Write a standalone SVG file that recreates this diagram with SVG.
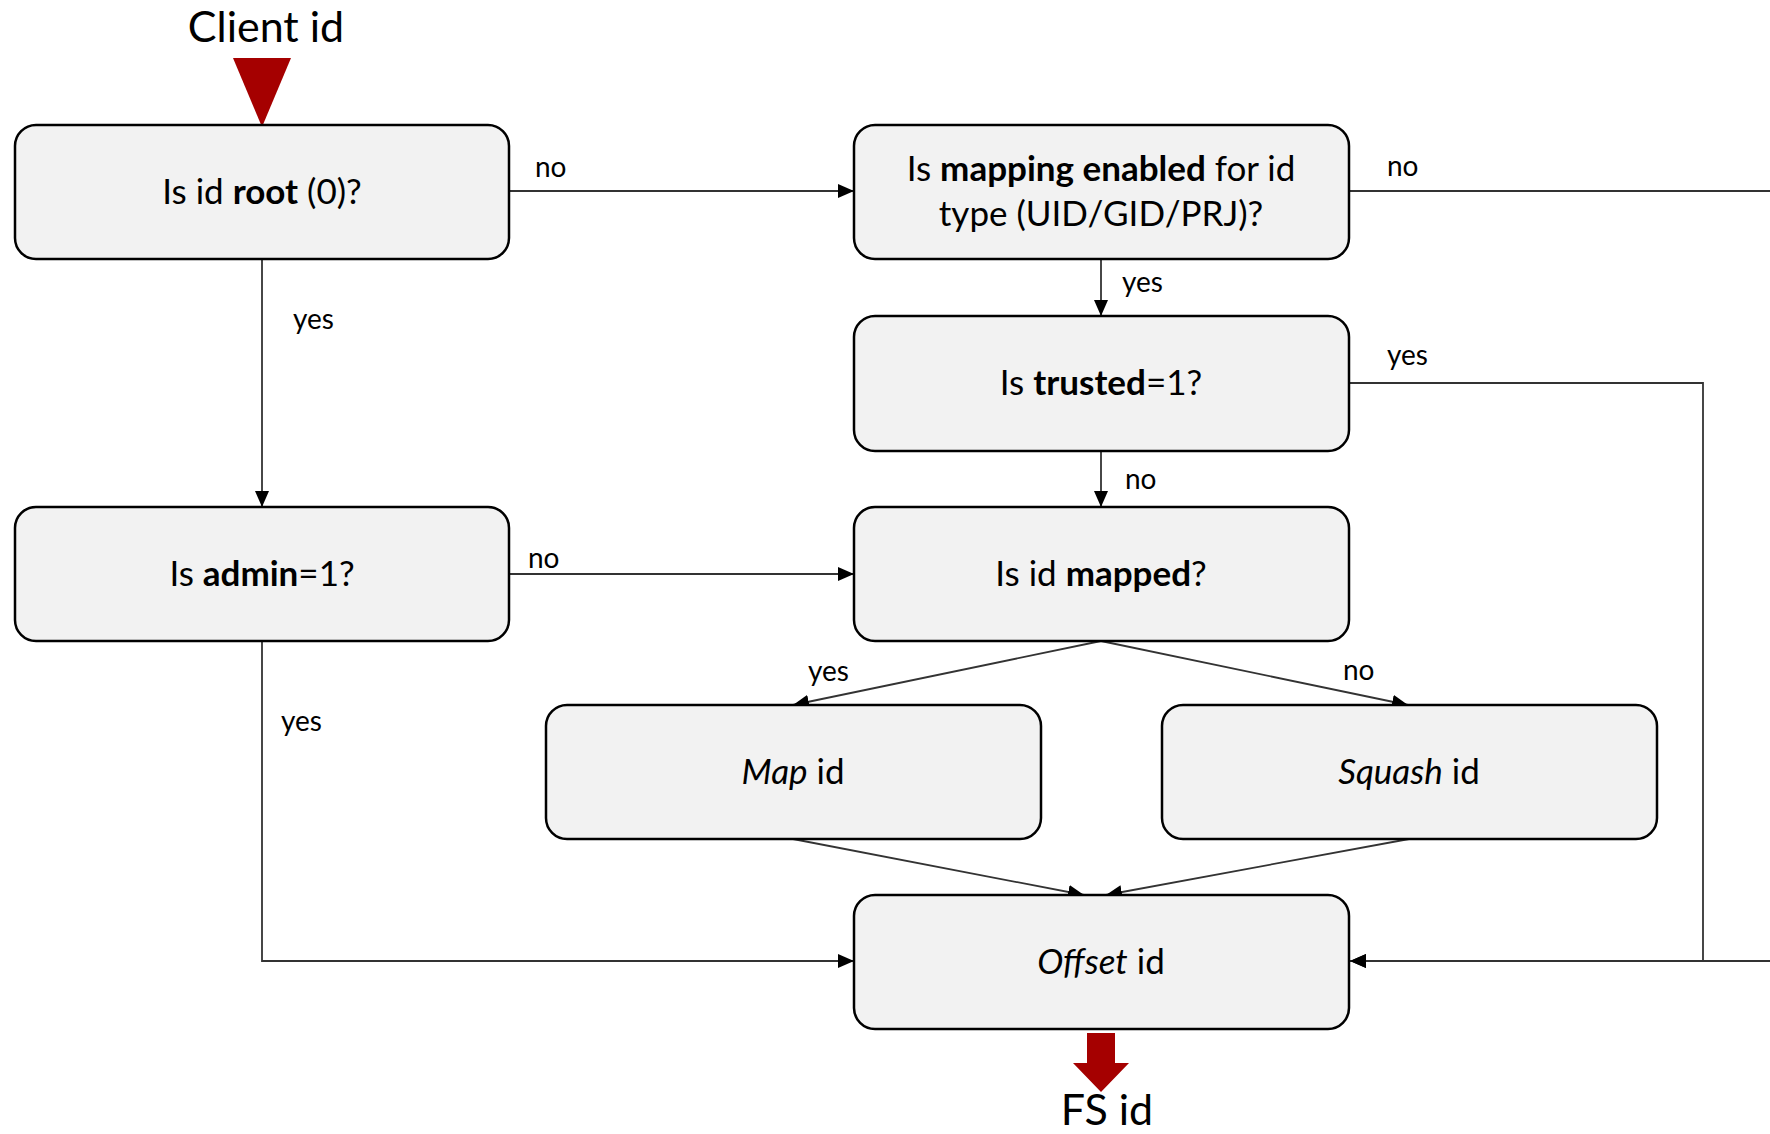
<svg xmlns="http://www.w3.org/2000/svg" width="1770" height="1134" viewBox="0 0 1770 1134">
<defs>
<style>
.box{fill:#F2F2F2;stroke:#000;stroke-width:2.5}
.t{font-family:Lato,"Open Sans",sans-serif;font-size:35px;text-anchor:middle;fill:#000}
.lbl{font-family:Lato,"Open Sans",sans-serif;font-size:28px;fill:#000}
.big{font-family:Lato,"Open Sans",sans-serif;font-size:43px;text-anchor:middle;fill:#000}
.b{font-weight:bold}
.i{font-style:italic}
.c{fill:none;stroke:#333;stroke-width:1.8}
.red{fill:#A50000}
</style>
<marker id="ah" viewBox="0 0 16 14" refX="16" refY="7" markerWidth="16" markerHeight="14" markerUnits="userSpaceOnUse" orient="auto">
<path d="M0,0 L16,7 L0,14 Z" fill="#000"/>
</marker>
</defs>
<rect width="1770" height="1134" fill="#fff"/>

<g id="connectors">
<path class="c" d="M509,191 H854" marker-end="url(#ah)"/>
<path class="c" d="M262,259 V507" marker-end="url(#ah)"/>
<path class="c" d="M1101,259 V316" marker-end="url(#ah)"/>
<path class="c" d="M1101,451 V507" marker-end="url(#ah)"/>
<path class="c" d="M509,574 H854" marker-end="url(#ah)"/>
<path class="c" d="M1101,641 L793,705" marker-end="url(#ah)"/>
<path class="c" d="M1101,641 L1408,705" marker-end="url(#ah)"/>
<path class="c" d="M793,839 L1084,895" marker-end="url(#ah)"/>
<path class="c" d="M1409,839 L1106,895" marker-end="url(#ah)"/>
<path class="c" d="M262,641 V961 H854" marker-end="url(#ah)"/>
<path class="c" d="M1349,383 H1703 V961 H1350" marker-end="url(#ah)"/>
<path class="c" d="M1349,191 H1773 V961 H1350" marker-end="url(#ah)"/>
<text class="lbl" x="535" y="177">no</text>
<text class="lbl" x="293" y="329">yes</text>
<text class="lbl" x="1122" y="292">yes</text>
<text class="lbl" x="1387" y="176">no</text>
<text class="lbl" x="1387" y="365">yes</text>
<text class="lbl" x="1125" y="489">no</text>
<text class="lbl" x="528" y="568">no</text>
<text class="lbl" x="808" y="681">yes</text>
<text class="lbl" x="1343" y="680">no</text>
<text class="lbl" x="281" y="731">yes</text>
</g>

<g id="client-id">
<text class="big" x="266" y="42">Client id</text>
<polygon class="red" points="233,58 291,58 262,127"/>
</g>

<g id="node-root">
<rect class="box" x="15" y="125" width="494" height="134" rx="21"/>
<text class="t" x="262" y="204">Is id <tspan class="b">root</tspan> (0)?</text>
</g>

<g id="node-mapping">
<rect class="box" x="854" y="125" width="495" height="134" rx="21"/>
<text class="t" x="1101" y="181">Is <tspan class="b">mapping enabled</tspan> for id</text>
<text class="t" x="1101" y="226">type (UID/GID/PRJ)?</text>
</g>

<g id="node-trusted">
<rect class="box" x="854" y="316" width="495" height="135" rx="21"/>
<text class="t" x="1101" y="395">Is <tspan class="b">trusted</tspan>=1?</text>
</g>

<g id="node-admin">
<rect class="box" x="15" y="507" width="494" height="134" rx="21"/>
<text class="t" x="262" y="586">Is <tspan class="b">admin</tspan>=1?</text>
</g>

<g id="node-mapped">
<rect class="box" x="854" y="507" width="495" height="134" rx="21"/>
<text class="t" x="1101" y="586">Is id <tspan class="b">mapped</tspan>?</text>
</g>

<g id="node-map">
<rect class="box" x="546" y="705" width="495" height="134" rx="21"/>
<text class="t" x="793" y="784"><tspan class="i">Map</tspan> id</text>
</g>

<g id="node-squash">
<rect class="box" x="1162" y="705" width="495" height="134" rx="21"/>
<text class="t" x="1409" y="784"><tspan class="i">Squash</tspan> id</text>
</g>

<g id="node-offset">
<rect class="box" x="854" y="895" width="495" height="134" rx="21"/>
<text class="t" x="1101" y="974"><tspan class="i">Offset</tspan> id</text>
</g>

<g id="fs-id">
<polygon class="red" points="1087,1033 1115,1033 1115,1063 1129,1063 1101,1092 1073,1063 1087,1063"/>
<text class="big" x="1107" y="1125">FS id</text>
</g>
</svg>
